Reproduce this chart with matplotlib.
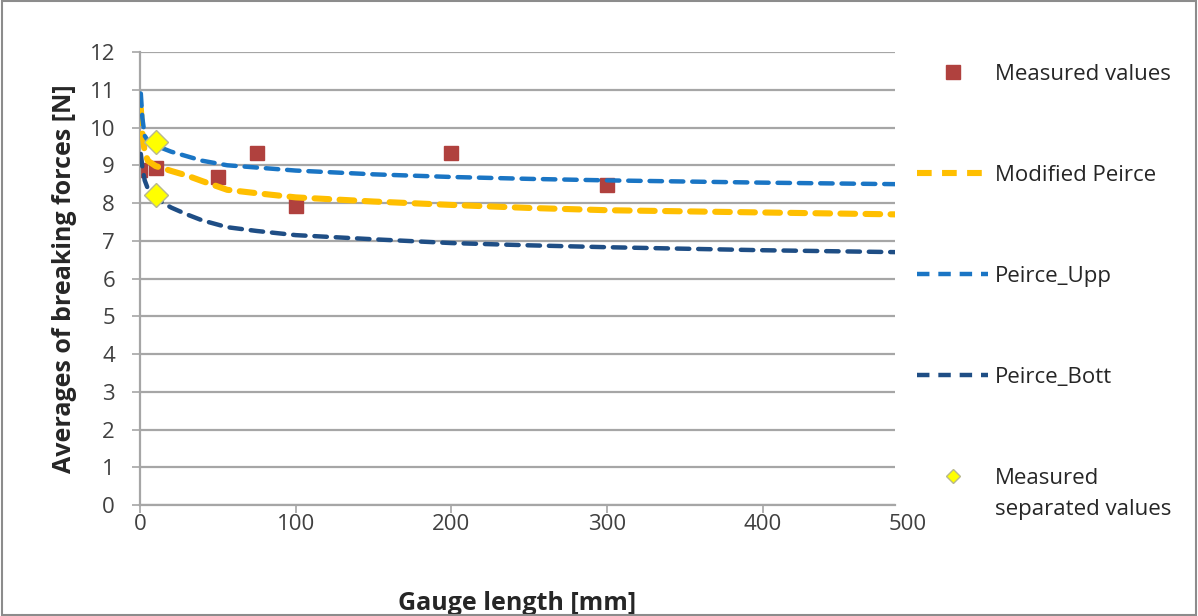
import numpy as np
from matplotlib import pyplot as plt
from matplotlib.lines import Line2D
from matplotlib.patches import Rectangle

# measured data
meas_x = [0, 10, 50, 75, 100, 200, 300]
meas_y = [8.87, 8.92, 8.69, 9.32, 7.92, 9.32, 8.48]
sep_x = [10, 10]
sep_y = [9.62, 8.21]

# curves
curve_x = [0.5, 1.5, 3, 5, 10, 20, 30, 40, 56, 75, 100, 150, 200, 250, 300, 400, 485]
upp = [10.9, 10.25, 9.78, 9.65, 9.52, 9.36, 9.24, 9.12, 9.0, 8.94, 8.86, 8.76, 8.69, 8.64, 8.6, 8.54, 8.5]
mod = [10.5, 9.85, 9.35, 9.12, 8.98, 8.85, 8.73, 8.58, 8.35, 8.26, 8.15, 8.04, 7.95, 7.87, 7.81, 7.75, 7.7]
bott = [9.3, 8.95, 8.6, 8.38, 8.12, 7.88, 7.7, 7.54, 7.36, 7.26, 7.15, 7.04, 6.94, 6.88, 6.83, 6.75, 6.7]

x_ticks = [0, 100, 200, 300, 400]
y_ticks = np.arange(0, 13, 1)

c_upp = '#1a75c4'
c_mod = '#ffbf00'
c_bott = '#1f4e85'
c_meas = '#b0413e'

plt.rcParams['font.family'] = ['Open Sans', 'DejaVu Sans']

fig = plt.figure(figsize=(11.98, 6.16), dpi=100)
ax = fig.add_axes([0.1169, 0.180, 0.6302, 0.7356])

ax.plot(meas_x, meas_y, linestyle=' ', marker='s', ms=9.5, color=c_meas, zorder=2)
ax.plot(curve_x, mod, linestyle=(0, (2.4, 1.7)), linewidth=4.4, color=c_mod,
        dash_capstyle='round', zorder=3)
ax.plot(curve_x, upp, linestyle=(0, (2.8, 2.0)), linewidth=3.2, color=c_upp,
        dash_capstyle='round', zorder=3)
ax.plot(curve_x, bott, linestyle=(0, (2.8, 2.0)), linewidth=3.2, color=c_bott,
        dash_capstyle='round', zorder=3)
ax.plot(sep_x, sep_y, linestyle=' ', marker='D', ms=12, color='#ffff00',
        markeredgecolor='#b8b890', markeredgewidth=1, zorder=5)

ax.set_xlim((0, 485))
ax.set_ylim((0, 12))
ax.xaxis.set_ticks(x_ticks)
ax.yaxis.set_ticks(y_ticks)
ax.grid(axis='y', color='#a6a6a6', linewidth=1.6)
ax.set_axisbelow(True)
for s in ['top', 'right']:
    ax.spines[s].set_visible(False)
for s in ['left', 'bottom']:
    ax.spines[s].set_color('#a6a6a6')
    ax.spines[s].set_linewidth(1.6)
ax.tick_params(axis='both', colors='#a6a6a6', width=1.2, length=6, labelsize=16,
               labelcolor='#404040')
ax.tick_params(axis='x', pad=0.5)
ax.tick_params(axis='y', pad=12)
ax.annotate('500', xy=(1.0, 0), xycoords='axes fraction', xytext=(9, -6.5),
            textcoords='offset points', ha='center', va='top', fontsize=16, color='#404040')

ax.set_xlabel('Gauge length [mm]', fontsize=18, fontweight='bold', color='#262626', labelpad=40)
ax.set_ylabel('Averages of breaking forces [N]', fontsize=18, fontweight='bold', color='#262626',
              labelpad=9)

handles = [
    Line2D([], [], linestyle=' ', marker='s', ms=9.5, color=c_meas),
    Line2D([], [], linestyle=(0, (2.4, 1.7)), linewidth=4.4, color=c_mod),
    Line2D([], [], linestyle=(0, (2.8, 2.0)), linewidth=3.2, color=c_upp),
    Line2D([], [], linestyle=(0, (2.8, 2.0)), linewidth=3.2, color=c_bott),
    Line2D([], [], linestyle=' ', marker='D', ms=7.5, color='#ffff00',
           markeredgecolor='#b8b890', markeredgewidth=1),
]
labels = ['Measured values', 'Modified Peirce', 'Peirce_Upp', 'Peirce_Bott', 'Measured']
fig.legend(handles, labels, loc='upper left', bbox_to_anchor=(0.749, 0.929),
           frameon=False, fontsize=16, handlelength=3.2, handletextpad=0.3,
           labelspacing=3.6, labelcolor='#262626')
fig.text(0.8306, 1 - 509 / 616, 'separated values', fontsize=16, color='#262626',
         ha='left', va='center')

fig.add_artist(Rectangle((0.002, 0.002), 0.996, 0.996, transform=fig.transFigure,
                         fill=False, edgecolor='#8c8c8c', linewidth=1.5))

fig.savefig('out.png', dpi=100)
